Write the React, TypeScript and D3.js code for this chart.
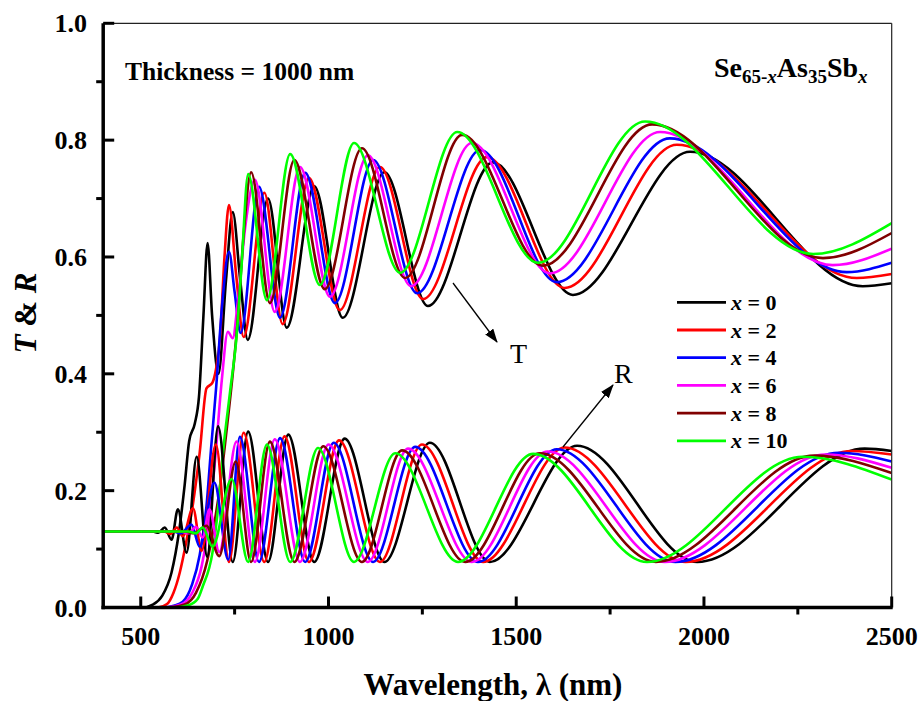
import React from 'react';
import * as d3 from 'd3';

type P = [number, number];

const seriesLabels = ['0', '2', '4', '6', '8', '10'];
const seriesColors = ['#000000', '#ff0000', '#0000ff', '#ff00ff', '#800000', '#00ff00'];

// Transmittance T (wavelength nm, value) read at extrema / shoulders
const T_x0: P[] = [[400,0],[505,0],[532,0.005],[557,0.02],[582,0.06],[602,0.13],[617,0.21],[629,0.285],[644,0.315],[655,0.36],[667,0.5],[678,0.624],[690,0.5],[707,0.40],[727,0.56],[745,0.677],[765,0.56],[785,0.458],[839,0.70],[889,0.479],[962,0.721],[1038,0.496],[1149,0.745],[1265,0.516],[1438,0.762],[1651,0.535],[1963,0.78],[2423,0.55],[2500,0.555]];
const T_x2: P[] = [[400,0],[545,0],[570,0.006],[587,0.025],[604,0.06],[622,0.115],[638,0.173],[657,0.265],[675,0.375],[691,0.385],[701,0.41],[711,0.46],[723,0.6],[735,0.689],[754,0.57],[774,0.463],[829,0.71],[878,0.485],[948,0.735],[1030,0.509],[1137,0.754],[1252,0.528],[1422,0.771],[1629,0.547],[1928,0.792],[2407,0.564],[2500,0.571]];
const T_x4: P[] = [[400,0],[560,0],[588,0.003],[612,0.01],[637,0.04],[657,0.09],[675,0.173],[687,0.27],[701,0.378],[717,0.52],[735,0.609],[750,0.54],[766,0.47],[815,0.72],[871,0.496],[938,0.744],[1017,0.521],[1119,0.766],[1236,0.538],[1404,0.783],[1608,0.557],[1909,0.803],[2380,0.574],[2500,0.59]];
const T_x6: P[] = [[400,0],[567,0],[607,0.005],[637,0.025],[662,0.07],[682,0.15],[699,0.26],[716,0.39],[732,0.472],[745,0.461],[758,0.52],[778,0.65],[804,0.732],[857,0.506],[924,0.754],[1004,0.532],[1105,0.774],[1220,0.55],[1382,0.795],[1590,0.572],[1883,0.814],[2343,0.586],[2500,0.614]];
const T_x8: P[] = [[400,0],[577,0],[617,0.005],[647,0.025],[677,0.08],[695,0.14],[711,0.207],[728,0.3],[745,0.40],[758,0.49],[773,0.63],[794,0.745],[844,0.521],[909,0.766],[990,0.545],[1089,0.786],[1204,0.564],[1356,0.809],[1571,0.585],[1862,0.827],[2317,0.598],[2500,0.641]];
const T_x10: P[] = [[400,0],[587,0],[627,0.004],[652,0.015],[665,0.036],[691,0.094],[706,0.17],[719,0.265],[738,0.37],[755,0.463],[768,0.58],[786,0.742],[836,0.526],[898,0.776],[977,0.552],[1068,0.795],[1191,0.573],[1343,0.814],[1558,0.59],[1843,0.832],[2291,0.605],[2500,0.658]];

// Reflectance R
const R_x0: P[] = [[400,0.13],[532,0.13],[547,0.128],[564,0.137],[582,0.116],[599,0.168],[622,0.094],[649,0.258],[677,0.087],[706,0.31],[745,0.078],[786,0.301],[839,0.078],[893,0.296],[962,0.078],[1043,0.289],[1149,0.078],[1270,0.282],[1430,0.078],[1662,0.277],[1982,0.078],[2428,0.272],[2500,0.268]];
const R_x2: P[] = [[400,0.13],[562,0.13],[580,0.126],[596,0.137],[612,0.122],[639,0.17],[662,0.097],[700,0.279],[735,0.078],[774,0.299],[829,0.078],[883,0.293],[948,0.078],[1028,0.286],[1137,0.078],[1249,0.279],[1412,0.078],[1629,0.274],[1951,0.078],[2394,0.268],[2500,0.262]];
const R_x4: P[] = [[400,0.13],[587,0.13],[607,0.127],[635,0.142],[657,0.104],[696,0.214],[733,0.082],[764,0.292],[815,0.078],[871,0.29],[938,0.078],[1014,0.282],[1119,0.078],[1231,0.275],[1398,0.078],[1608,0.271],[1924,0.078],[2359,0.265],[2500,0.25]];
const R_x6: P[] = [[400,0.13],[607,0.13],[627,0.127],[647,0.138],[665,0.12],[683,0.168],[709,0.095],[755,0.284],[804,0.078],[857,0.288],[924,0.078],[1000,0.279],[1105,0.078],[1212,0.272],[1382,0.078],[1584,0.267],[1896,0.078],[2324,0.262],[2500,0.239]];
const R_x8: P[] = [[400,0.13],[617,0.13],[642,0.127],[675,0.14],[709,0.088],[753,0.25],[794,0.078],[844,0.284],[909,0.078],[986,0.276],[1089,0.078],[1196,0.269],[1364,0.078],[1563,0.264],[1872,0.078],[2294,0.26],[2500,0.23]];
const R_x10: P[] = [[400,0.13],[627,0.13],[647,0.127],[665,0.137],[691,0.104],[742,0.22],[786,0.078],[836,0.279],[898,0.078],[972,0.273],[1068,0.078],[1178,0.264],[1345,0.078],[1545,0.263],[1848,0.078],[2263,0.258],[2500,0.219]];

const T_series = [T_x0, T_x2, T_x4, T_x6, T_x8, T_x10];
const R_series = [R_x0, R_x2, R_x4, R_x6, R_x8, R_x10];

const xMajor = [500, 1000, 1500, 2000, 2500];
const xMinor = [750, 1250, 1750, 2250];
const yMajor = [0, 0.2, 0.4, 0.6, 0.8, 1.0];
const yMinor = [0.1, 0.3, 0.5, 0.7, 0.9];

const FONT = 'Liberation Serif';

export default function App() {
  const L = 103.2, Rr = 891.7, Tp = 23.3, B = 607.5;
  const x = d3.scaleLinear().domain([400, 2500]).range([L, Rr]);
  const y = d3.scaleLinear().domain([0, 1]).range([B, Tp]);
  const line = d3.line<P>().x(d => x(d[0])).y(d => y(d[1])).curve(d3.curveMonotoneX);
  const legendY0 = 302.3, legendDy = 27.7;

  return (
    <svg width={920} height={701} style={{ position: 'absolute', left: 0, top: 0, background: '#fff' }}>
      <defs>
        <clipPath id="plot"><rect x={L} y={Tp} width={Rr - L} height={B - Tp} /></clipPath>
        <marker id="ah" markerUnits="userSpaceOnUse" markerWidth={14} markerHeight={10} refX={13} refY={5} orient="auto">
          <path d="M0,0 L14,5 L0,10 Z" fill="#000" />
        </marker>
      </defs>
      <rect x={0} y={0} width={920} height={701} fill="#fff" />
      <g clipPath="url(#plot)" fill="none" strokeWidth={2.6} strokeLinejoin="round">
        {T_series.map((s, i) => (
          <path key={'t' + i} d={line(s) || ''} stroke={seriesColors[i]} />
        ))}
        {R_series.map((s, i) => (
          <path key={'r' + i} d={line(s) || ''} stroke={seriesColors[i]} />
        ))}
      </g>
      <line x1={L} x2={Rr} y1={Tp} y2={Tp} stroke="#222" strokeWidth={1.2} />
      <line x1={Rr} x2={Rr} y1={Tp} y2={B} stroke="#222" strokeWidth={1.2} />
      <line x1={L} x2={L} y1={B + 1.75} y2={Tp} stroke="#000" strokeWidth={3.5} />
      <line x1={L - 1.75} x2={Rr + 1} y1={B} y2={B} stroke="#000" strokeWidth={3.5} />
      {yMajor.map(v => (
        <line key={'ym' + v} x1={L} x2={L + 11} y1={y(v)} y2={y(v)} stroke="#000" strokeWidth={3} />
      ))}
      {yMinor.map(v => (
        <line key={'yn' + v} x1={L} x2={L - 7} y1={y(v)} y2={y(v)} stroke="#000" strokeWidth={3} />
      ))}
      {xMajor.map(v => (
        <line key={'xm' + v} x1={x(v)} x2={x(v)} y1={B} y2={B - 11} stroke="#000" strokeWidth={3} />
      ))}
      {xMinor.map(v => (
        <line key={'xn' + v} x1={x(v)} x2={x(v)} y1={B} y2={B + 7} stroke="#000" strokeWidth={3} />
      ))}
      {yMajor.map(v => (
        <text key={'yl' + v} x={87} y={y(v)} dy="0.35em" textAnchor="end" fontFamily={FONT} fontWeight="bold" fontSize={26}>{v.toFixed(1)}</text>
      ))}
      {xMajor.map(v => (
        <text key={'xl' + v} x={x(v)} y={645} textAnchor="middle" fontFamily={FONT} fontWeight="bold" fontSize={26}>{v}</text>
      ))}
      <text x={493} y={695} textAnchor="middle" fontFamily={FONT} fontWeight="bold" fontSize={31}>Wavelength, λ (nm)</text>
      <text transform="translate(36,313) rotate(-90)" textAnchor="middle" fontFamily={FONT} fontWeight="bold" fontSize={31}>
        <tspan fontStyle="italic">T</tspan> &amp; <tspan fontStyle="italic">R</tspan>
      </text>
      <text x={125} y={80} fontFamily={FONT} fontWeight="bold" fontSize={25.5}>Thickness = 1000 nm</text>
      <text x={714} y={77} fontFamily={FONT} fontWeight="bold" fontSize={28}>
        Se<tspan dy={6} fontSize={19}>65-</tspan><tspan fontSize={19} fontStyle="italic">x</tspan>
        <tspan dy={-6}>As</tspan><tspan dy={6} fontSize={19}>35</tspan>
        <tspan dy={-6}>Sb</tspan><tspan dy={6} fontSize={19} fontStyle="italic">x</tspan>
      </text>
      {seriesLabels.map((lab, i) => (
        <g key={'lg' + i}>
          <line x1={677} x2={726} y1={legendY0 + i * legendDy} y2={legendY0 + i * legendDy} stroke={seriesColors[i]} strokeWidth={2.8} />
          <text x={731} y={legendY0 + i * legendDy + 7.5} fontFamily={FONT} fontWeight="bold" fontSize={22}>
            <tspan fontStyle="italic">x</tspan> = {lab}
          </text>
        </g>
      ))}
      <line x1={453} y1={283} x2={497} y2={342} stroke="#000" strokeWidth={1.3} markerEnd="url(#ah)" />
      <text x={510} y={363} fontFamily={FONT} fontSize={28}>T</text>
      <line x1={563} y1={447} x2={613} y2={385} stroke="#000" strokeWidth={1.3} markerEnd="url(#ah)" />
      <text x={614} y={383} fontFamily={FONT} fontSize={28}>R</text>
    </svg>
  );
}
